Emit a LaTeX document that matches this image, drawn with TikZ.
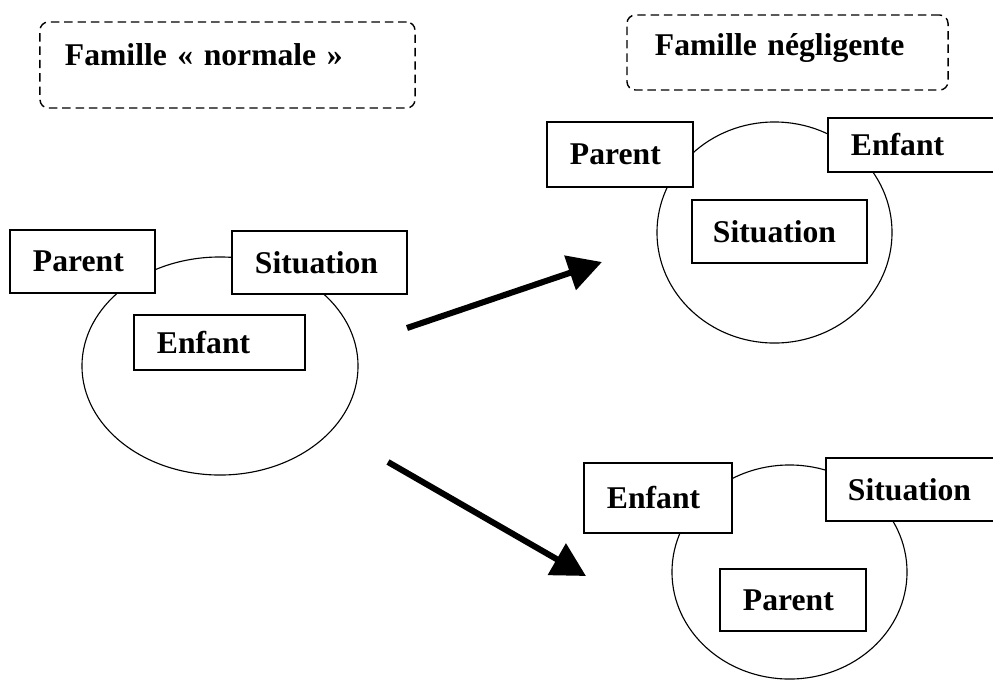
\documentclass[tikz,border=0pt]{standalone}
\usepackage{fontspec}
\setmainfont{Liberation Serif}
\usetikzlibrary{arrows.meta,shapes.geometric}

\begin{document}
\begin{tikzpicture}[x=0.025cm, y=-0.025cm,
	boite/.style={draw, line width=0.8pt, fill=white, inner xsep=0.575cm, inner ysep=0pt, align=left, font=\fontsize{22.5}{27}\selectfont\bfseries},
	titre/.style={draw, line width=1pt, dash pattern=on 6pt off 3.5pt, rounded corners=6pt, inner ysep=0pt, align=left, font=\fontsize{22.5}{27}\selectfont\bfseries},
	cercle/.style={draw, line width=0.8pt, ellipse, inner sep=0pt},
	fleche/.style={line width=4.3pt, -{Triangle[length=24pt, width=25pt]}}]
			%%%%% START %%%%%
			\useasboundingbox (0, 0) rectangle (993, 679);
			
			% titres
			\node[titre, inner xsep=0.625cm, text width=8.125cm, text height=1.075cm, text depth=1.075cm] (titreA) at (227.5, 65) {Famille « normale »};
			\node[titre, inner xsep=0.7cm, text width=6.625cm, text height=1.0cm, text depth=0.875cm] (titreB) at (787.5, 52.5) {Famille négligente};
			
			% famille normale
			\node[cercle, minimum width=6.9cm, minimum height=5.45cm] (cercleA) at (220, 366) {};
			\node[boite, text width=2.475cm, minimum height=1.575cm] (parentA) at (82.5, 261.5) {Parent};
			\node[boite, text width=3.225cm, minimum height=1.575cm] (situationA) at (319.5, 262.5) {Situation};
			\node[boite, text width=3.125cm, minimum height=1.375cm] (enfantA) at (219.5, 342.5) {Enfant};
			
			% famille negligente, haut
			\node[cercle, minimum width=5.875cm, minimum height=5.525cm] (cercleB) at (774.5, 232.5) {};
			\node[boite, text width=2.5cm, minimum height=1.625cm] (parentB) at (620, 154.5) {Parent};
			\node[boite, text width=3.85cm, minimum height=1.35cm] (enfantB) at (928, 145) {Enfant};
			\node[boite, inner xsep=0.525cm, text width=3.325cm, minimum height=1.575cm] (situationB) at (779.5, 231.5) {Situation};
			
			% famille negligente, bas
			\node[cercle, minimum width=5.875cm, minimum height=5.35cm] (cercleC) at (789.5, 572) {};
			\node[boite, text width=2.55cm, minimum height=1.75cm] (enfantC) at (658, 498) {Enfant};
			\node[boite, inner xsep=0.55cm, text width=3.9cm, minimum height=1.575cm] (situationC) at (926, 489.5) {Situation};
			\node[boite, text width=2.5cm, minimum height=1.55cm] (parentC) at (793, 600) {Parent};
			
			% fleches
			\coordinate (depart1) at (407, 328);
			\coordinate (fin1) at (602, 262);
			\coordinate (depart2) at (388, 462);
			\coordinate (fin2) at (586, 576);
			\draw[fleche] (depart1) -- (fin1);
			\draw[fleche] (depart2) -- (fin2);
			
			%%%%% END %%%%%
\end{tikzpicture}
\end{document}
